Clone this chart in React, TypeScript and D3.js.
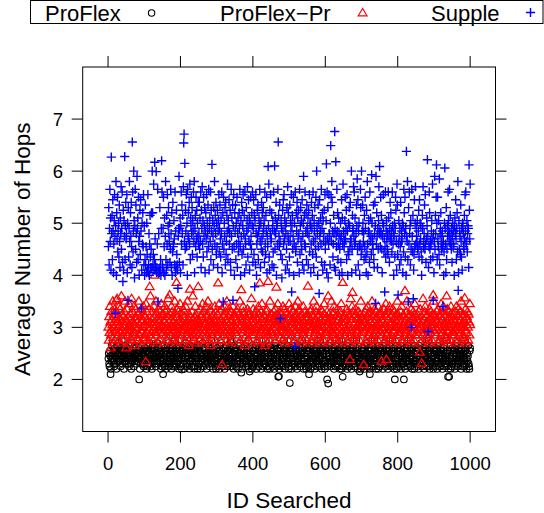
import React from 'react';
import * as d3 from 'd3';

// ---------- data ----------
const seriesNames = ['ProFlex', 'ProFlex\u2212Pr', 'Supple'];
const xTicks = [0, 200, 400, 600, 800, 1000];
const yTicks = [2, 3, 4, 5, 6, 7];
const xTitle = 'ID Searched';
const yTitle = 'Average Number of Hops';

// Each character is one ID (1..1000); value = base + step * index-in-alphabet
const ALPHA = 'abcdefghijklmnopqrstuvwxyzABCDEFGHIJKLMNOPQRSTUVWXYZ0123456789';
const proflexBase = 1.9, proflexStep = 0.05;
const proflexPrBase = 2.4, proflexPrStep = 0.05;
const suppleBase = 3.7, suppleStep = 0.05;

const proflexCoded = [
  'kmihnlogjplkqmjnhiomligkpmnjqlmjokhlnrkinlmgjopkim',
  'jnlkoimhplmkigqlnjokhmlpjkoinmrjlmkhngoiklpmjinhlo',
  'ilmkogjnhpnklqmjihlogmkpnljoiklhmjnkqiloomkljgpnhi',
  'kljmphonignlmkjqhioljmklgnpoihklmjrnhiolmkjlpgnoih',
  'mhkjnlpoigjkmlqnhiollmkigjnpohkmjlnrhgolnkmjlpgohi',
  'kpnigmjlhoqlkhmojnilmgkjlpinokhjlmrkoinglnkjpmhgio',
  'ojhkmlngpilmqkijhnolkgmlojpinhnikljmhroqjlhmkpgoin',
  'mlohknjigpkjmqlinholgiklmonpjhljnmkhrigopmjlkighno',
  'hknmjliopgqlmjkhonilkmgnjlphoijlkmirhnogmklhjpgino',
  'liknhmjogpmqjlkihnoljkglmnohpikmhjlrngoilnmkjpihgo',
  'njlmkhgopikmqlijhnlomgljknpiohhlmkjronigjkmlphgnio',
  'kmhnljoigpljqmkhinolgkmljnohipmljkhrnoigklnjmphigo',
  'jmnlkhogipmlkqjhinolkljgmonhpiljmkhinrogmkjlgphino',
  'lnkmjhoipgkqmljihnolmglkjnopihjkhlmrnogilmkjpihgno',
  'mkhjlnogpijlmqkhinolkgmjlnohiplmkhjrinogkjmlpgnhio',
  'hlnkmjoigpmkjlqhinolljgmknophikmljhrniogmljkpighno',
  'kmjnlhopgilqmkjinholgkljmnohpimjklhrnoiglkmjpghino',
  'njkmlhogpikmlqjihnoljmglknophilkjmhrngoimjlkpihgno',
  'lmkjhnoigpjkmqlhinolmkgljnohpikljmhrinogjmlkpgnhio',
  'kjlmnhogipmlkqjhinolljmkgnophimkljhrnoigkmjlpihgno',
].join('');

const proflexPrCoded = [
  'mhqkuoejslpnwigromtklsfoxjqmhunktpgmvlrojqmhsnwkpe',
  'oltjqmgvnkrpimxhlsojuknfqmtpliomrhwjnsgqltkopmiurh',
  'nqjmvkshpogmtlrjyokipnslhqumfokwjrnpgmtlqohsmkvjnr',
  'mkrpgoulsjnthqmxkolfrjpnumshqkomiwlgrnptkqmjshonvl',
  'pjnrlotkmgsqhumonjwklpfrmtiqnokslyjpmhqournkgmlpsj',
  'onhmtkqrljvpmgsnkoiulqjrmwnhpoktfsmlqjonrmpkuhoslg',
  'mrjqolvknshpmtgoljqrnuksmphwojlqgntrmkospjmhuqlnrk',
  'qmkpsjotlngrmwhnqjpolkusmrifnqojpmtlkhrsnmqgoxjlpk',
  'tnjromkqlsphmgunrjoqkslmvhpnjorqfmklstgnomjpqhwlrk',
  'nrkpomjslqhtmognrkvpjlqnsimorkhpuqlmtgnjoskrmpjhqv',
  'kqmrtnjpolgsmhoqukrlnpjwmkotshqlnrgmpjukomsliqnhrp',
  'rjqnmokpslthgmrnqwjokplsmuhnoqjrimlkgtpnsqomhrvjnk',
  'pmkqsnotjrlhmgqpwnkorsjumlnhqioktrmpgqlnjsmvokhrnp',
  'qnrjomlptkhsmgrqnojxlpkumsihnqorjtmlkgpnqsmohrjwnk',
  'mqpnrjkosolhtgmqunrjpkslmoihwqnrjomtlgkpsqnmhuojrl',
  'ksrnqmpjolgtmhnrvqojlkpsmiuhonqjromtlgknspqmhrjowk',
  'rmnpqjkslouhmgnrqojtplkswmhnoqijrmoltgknpqsmhrvojn',
  'nqkrpmjsolhtmgnrqojxplksmuhnqojriomltgknpsqmhrojwl',
  'rnkqmpjslotgmhnrqojvlpksmuhnoqjrimoltgknpsqmhruojk',
  'qmrnkpjoslhugmnrqtojlpkswmhnqojrimoltgknqpsmhrojvn',
].join('');

const suppleCoded = [
  'rGkyNtCiPwDmJxhsBLvozQgEuKpxAnHtjCwOqyMlsFiBvRmzIu',
  'wLhAsGnyQtkEvIrjDMpxuBfzNqHwlSyCmKtgvFoJxPiAsErLkz',
  'gmHkrhAoiLhkwgsDnjqEjgEkoPimxukiBhjsNrhwihGjmgyqMk',
  'jyKhrCgvQmiDsLkzGwtAlqNwjEgpIrsBukMhxjFokiHvySlyCh',
  'zMsHwDkOyBtJqFxLrAgNvEuIsPmCzKwGoBxMtQhyDrKuFnAvIs',
  'wIqCtMjFyOsBnKvzGhxEuLpAwHrNiyCtMmFxJqBvkGzQsDwIoA',
  'rFjxBLpyHunCwMhsEzKqAvGkIotDxPmByJswFliNvCqHtzLrgE',
  'xHmAsKjwCptEyNrgBvIoFzLqwDhMuskGxBOnyJtCiAsKvqEzMl',
  'yJoDrBkLwgsFvHmxCzNtjAqIuEpwGyBlMsoDxKhvrCzPniFwLt',
  'uEkyBpMjxGqCwIgzAsNlDvrHtKoByfmFxJsLuCziwAqGkOvEth',
  'nHtBxLjzDqvKgsAyMprExIlCuFwhNozGtBqJkvASiDsMrxEmHy',
  'wCkFvLpAzhsIyDoMtjBxGuqKnEzwgHrAmJvxCsNlyEiBtwFkLq',
  'tBxhMuGfsLwvkAzKtQIxnsDwjHyiQvrNxEmsCwgquAlvJhCsPx',
  'wrtBKuyFmLxgpAoGzrItuwhqDxyOvMsCtiwHzRqJkxArgsNGow',
  'qxHAtwmDrKynhFpQsgxBwlMtCvoLAsuqHmjwIzpSsEvjyqBOwI',
  'xrKwDqhvALzpuGrMnxBtqwoMCvlyIuEtxpMzswgvAnyKFtiPHo',
  'wsBvkyrImtxuAhzpNEwKnygCvtQmuGsMwzkBqyNvpDxioJrAOs',
  'yvtBqrxFnJsAuzpgmDyOrtwHqLsluCzAvpjrMEqtmsxBuPnGwh',
  'tyqDwKvAmKurBoRkwyEsqvxrCtgpAwyshGmqzvMBxtNwDsuqyl',
  'vArxsgzCwJumyEpQwhBqxvoHtnyiAzwrqDuLxMstBpwzyjrFuP',
].join('');

// Individually read points that stand out from each band: [ID, value]
const proflexOutliers: [number, number][] = [
  [7, 2.1], [86, 2.0], [152, 2.1], [204, 2.19], [368, 2.13], [391, 2.15], [470, 2.05],
  [472, 2.06], [502, 1.93], [555, 2.1], [605, 2.0], [608, 1.92], [648, 2.05], [695, 2.15],
  [723, 2.1], [792, 2.0], [817, 2.0], [939, 2.05], [942, 2.05],
];
const proflexPrOutliers: [number, number][] = [
  [23, 3.52], [37, 3.6], [115, 3.78], [129, 4.0], [170, 3.62], [189, 3.86], [226, 3.73],
  [249, 3.78], [304, 3.85], [368, 3.72], [419, 3.85], [442, 3.88], [465, 3.77], [552, 3.79],
  [608, 3.6], [648, 3.86], [675, 3.67], [820, 3.7], [898, 3.62], [935, 3.6], [985, 3.56],
  [104, 2.34], [315, 2.28], [668, 2.38], [706, 2.28], [755, 2.35], [769, 2.38], [861, 2.52],
  [866, 2.31],
];
const suppleOutliers: [number, number][] = [
  [9, 6.27], [46, 6.28], [67, 6.56], [71, 6.0], [122, 6.0], [129, 6.17], [133, 5.99],
  [148, 6.2], [209, 6.54], [210, 6.71], [212, 6.15], [287, 6.13], [442, 6.09], [460, 6.1],
  [470, 6.56], [576, 6.0], [603, 6.14], [615, 6.49], [626, 6.76], [629, 6.18], [672, 6.0],
  [700, 6.0], [728, 5.93], [750, 6.09], [824, 6.38], [882, 6.22], [902, 5.9], [907, 6.12],
  [930, 6.06], [997, 6.12],
  [20, 3.27], [41, 3.88], [55, 3.52], [92, 3.37], [138, 3.49], [193, 3.75], [318, 3.49],
  [345, 3.52], [405, 3.78], [476, 3.17], [507, 3.68], [516, 2.63], [583, 3.65], [739, 3.46],
  [764, 3.68], [801, 3.62], [829, 3.49], [838, 3.0], [843, 3.55], [884, 2.92], [898, 3.52],
  [925, 3.4], [967, 3.71],
];

function decode(coded: string, base: number, step: number, outliers: [number, number][]) {
  const pts = Array.from(coded).map((c, i) => ({ id: i + 1, v: base + step * ALPHA.indexOf(c) }));
  const byId = new Map(outliers.map(([id, v]) => [id, v]));
  return pts.map((p) => (byId.has(p.id) ? { id: p.id, v: byId.get(p.id) as number } : p));
}

const proflex = decode(proflexCoded, proflexBase, proflexStep, proflexOutliers);
const proflexPr = decode(proflexPrCoded, proflexPrBase, proflexPrStep, proflexPrOutliers);
const supple = decode(suppleCoded, suppleBase, suppleStep, suppleOutliers);

// ---------- layout ----------
const W = 544, H = 513;
const FONT = "'Liberation Sans', Arial, Helvetica, sans-serif";
const P = { l: 82.7, r: 495.5, t: 67, b: 431.5 };
const TICK = 11;

const x = d3.scaleLinear().domain([-70, 1070]).range([P.l, P.r]);
const y = d3.scaleLinear().domain([1, 8]).range([P.b, P.t]);

const tri = (cx: number, cy: number) =>
  `M${cx},${cy - 4.5}L${cx - 4.4},${cy + 2.8}L${cx + 4.4},${cy + 2.8}Z`;
const cross = (cx: number, cy: number) =>
  `M${cx - 4.6},${cy}H${cx + 4.6}M${cx},${cy - 4.6}V${cy + 4.6}`;

export default function App() {
  const midX = (P.l + P.r) / 2;
  const midY = (P.t + P.b) / 2;
  return (
    <svg width={W} height={H} style={{ position: 'absolute', left: 0, top: 0, display: 'block' }}
      fontFamily={FONT}>
      <rect x={0} y={0} width={W} height={H} fill="#fff" />
      {/* legend */}
      <rect x={30.5} y={0.5} width={512.5} height={23} fill="none" stroke="#000" strokeWidth={1} />
      <text x={45} y={21} fontSize={22}>{seriesNames[0]}</text>
      <circle cx={151.6} cy={13} r={3.2} fill="none" stroke="#000" strokeWidth={1.1} />
      <text x={220} y={21} fontSize={22}>{seriesNames[1]}</text>
      <path d={tri(362.6, 13)} fill="none" stroke="#f00" strokeWidth={1.2} />
      <text x={431} y={21} fontSize={22}>{seriesNames[2]}</text>
      <path d={cross(530.5, 12.5)} fill="none" stroke="#00f" strokeWidth={1.4} />

      {/* points */}
      <g fill="none" stroke="#000" strokeWidth={1.1}>
        {proflex.map((p) => (
          <circle key={'a' + p.id} cx={x(p.id)} cy={y(p.v)} r={3.3} />
        ))}
      </g>
      <g fill="none" stroke="#f00" strokeWidth={1.25}>
        {proflexPr.map((p) => (
          <path key={'b' + p.id} d={tri(x(p.id), y(p.v))} />
        ))}
      </g>
      <g fill="none" stroke="#00f" strokeWidth={1.4}>
        {supple.map((p) => (
          <path key={'c' + p.id} d={cross(x(p.id), y(p.v))} />
        ))}
      </g>

      {/* frame */}
      <rect x={P.l} y={P.t} width={P.r - P.l} height={P.b - P.t} fill="none" stroke="#000" strokeWidth={1} />

      {/* ticks */}
      <g stroke="#000" strokeWidth={1}>
        {xTicks.map((t) => (
          <g key={'xt' + t}>
            <line x1={x(t)} x2={x(t)} y1={P.b} y2={P.b + TICK} />
            <line x1={x(t)} x2={x(t)} y1={P.t} y2={P.t - TICK} />
          </g>
        ))}
        {yTicks.map((t) => (
          <g key={'yt' + t}>
            <line x1={P.l} x2={P.l - TICK} y1={y(t)} y2={y(t)} />
            <line x1={P.r} x2={P.r + TICK} y1={y(t)} y2={y(t)} />
          </g>
        ))}
      </g>
      <g fontSize={18.5} fill="#000">
        {xTicks.map((t) => (
          <text key={'xl' + t} x={x(t)} y={470} textAnchor="middle">{t}</text>
        ))}
        {yTicks.map((t) => (
          <text key={'yl' + t} x={63} y={y(t)} dy="0.35em" textAnchor="end">{t}</text>
        ))}
      </g>
      <text x={midX} y={508} fontSize={22.5} textAnchor="middle">{xTitle}</text>
      <text transform={`translate(29.5,${midY}) rotate(-90)`} fontSize={22.5} textAnchor="middle">{yTitle}</text>
    </svg>
  );
}
